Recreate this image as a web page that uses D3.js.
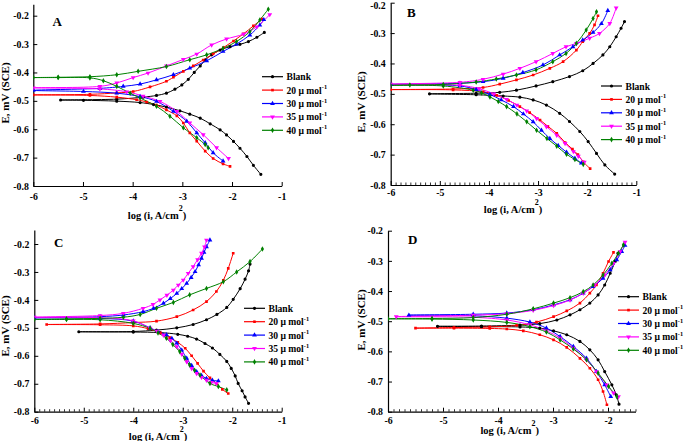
<!DOCTYPE html>
<html><head><meta charset="utf-8">
<script src="https://cdn.jsdelivr.net/npm/d3@7"></script>
<style>
body{margin:0;background:#fff}
svg{display:block}
text{font-family:"Liberation Serif","Times New Roman",serif;font-weight:bold;fill:#000}
</style>
</head><body>
<svg id="chart" width="685" height="441"></svg>
<script>
// ---------- labels / categories ----------
const seriesNames = ["Blank", "20 \u03bc mol", "30 \u03bc mol", "35 \u03bc mol", "40 \u03bc mol"];
const seriesSup = ["", "-1", "-1", "-1", "-1"];
const seriesColors = ["#000000", "#ff0000", "#0000ff", "#ff00ff", "#008000"];
const panelLetters = ["A", "B", "C", "D"];
const xTickValues = [-6, -5, -4, -3, -2, -1];
const xTickValuesD = [-6, -5, -4, -3, -2];
const yTickValues = [-0.8, -0.7, -0.6, -0.5, -0.4, -0.3, -0.2];
const yTitleText = "E, mV (SCE)";
const xTitleText = "log (i, A/cm";
const xTitleSup = "2";

// ---------- data: [log i, E] ordered cathodic end -> Ecorr -> anodic end ----------
const A_blank = [[-1.42,-0.759],[-1.57,-0.727],[-1.70,-0.696],[-1.84,-0.667],[-1.97,-0.643],[-2.11,-0.62],[-2.24,-0.602],[-2.44,-0.581],[-2.64,-0.561],[-2.85,-0.547],[-3.05,-0.535],[-3.32,-0.522],[-3.58,-0.513],[-3.85,-0.506],[-4.32,-0.501],[-4.99,-0.498],[-5.45,-0.497],[-4.32,-0.494],[-3.79,-0.487],[-3.52,-0.481],[-3.32,-0.473],[-3.15,-0.459],[-3.01,-0.444],[-2.88,-0.424],[-2.76,-0.40],[-2.64,-0.377],[-2.54,-0.356],[-2.41,-0.338],[-2.24,-0.321],[-2.04,-0.309],[-1.84,-0.301],[-1.67,-0.291],[-1.50,-0.276],[-1.35,-0.259]];
const A_20 = [[-2.04,-0.731],[-2.18,-0.722],[-2.38,-0.703],[-2.54,-0.677],[-2.71,-0.642],[-2.85,-0.613],[-2.98,-0.578],[-3.11,-0.553],[-3.32,-0.532],[-3.52,-0.515],[-3.72,-0.504],[-3.92,-0.496],[-4.32,-0.487],[-4.86,-0.481],[-6.0,-0.479],[-4.86,-0.477],[-4.32,-0.472],[-3.99,-0.467],[-3.65,-0.451],[-3.32,-0.431],[-3.18,-0.417],[-2.98,-0.396],[-2.78,-0.377],[-2.58,-0.356],[-2.38,-0.335],[-2.17,-0.312],[-1.97,-0.289],[-1.77,-0.264],[-1.57,-0.236],[-1.40,-0.212]];
const A_30 = [[-2.18,-0.712],[-2.38,-0.683],[-2.54,-0.648],[-2.71,-0.613],[-2.91,-0.572],[-3.18,-0.537],[-3.52,-0.502],[-3.85,-0.485],[-4.32,-0.473],[-4.99,-0.467],[-6.0,-0.463],[-4.66,-0.456],[-4.19,-0.449],[-3.85,-0.441],[-3.52,-0.426],[-3.18,-0.408],[-2.85,-0.385],[-2.51,-0.359],[-2.18,-0.326],[-1.91,-0.300],[-1.64,-0.268],[-1.44,-0.233],[-1.36,-0.214]];
const A_35 = [[-2.07,-0.703],[-2.31,-0.665],[-2.58,-0.619],[-2.85,-0.578],[-3.11,-0.537],[-3.45,-0.502],[-3.79,-0.483],[-4.12,-0.468],[-4.66,-0.458],[-6.0,-0.454],[-4.66,-0.449],[-4.32,-0.437],[-3.99,-0.418],[-3.69,-0.402],[-3.32,-0.377],[-2.98,-0.354],[-2.71,-0.335],[-2.41,-0.303],[-2.11,-0.282],[-1.77,-0.265],[-1.50,-0.239],[-1.24,-0.196]];
const A_40 = [[-2.48,-0.665],[-2.54,-0.654],[-2.71,-0.630],[-2.98,-0.595],[-3.25,-0.554],[-3.52,-0.519],[-3.85,-0.490],[-4.05,-0.473],[-4.32,-0.449],[-4.59,-0.429],[-4.86,-0.419],[-5.5,-0.418],[-6.0,-0.418],[-5.5,-0.417],[-4.86,-0.415],[-4.32,-0.408],[-3.89,-0.396],[-3.32,-0.379],[-2.85,-0.355],[-2.51,-0.338],[-2.18,-0.315],[-1.91,-0.291],[-1.64,-0.256],[-1.44,-0.215],[-1.27,-0.177]];

const B_blank = [[-1.44,-0.764],[-1.64,-0.734],[-1.81,-0.696],[-1.98,-0.657],[-2.15,-0.624],[-2.36,-0.591],[-2.56,-0.564],[-2.83,-0.537],[-3.10,-0.520],[-3.37,-0.511],[-3.71,-0.507],[-4.26,-0.503],[-5.21,-0.500],[-4.26,-0.498],[-3.78,-0.495],[-3.44,-0.488],[-3.04,-0.474],[-2.70,-0.460],[-2.36,-0.443],[-2.09,-0.424],[-1.88,-0.400],[-1.68,-0.372],[-1.54,-0.345],[-1.41,-0.312],[-1.31,-0.284],[-1.24,-0.262]];
const B_20 = [[-1.94,-0.746],[-2.08,-0.724],[-2.19,-0.700],[-2.30,-0.682],[-2.45,-0.660],[-2.62,-0.630],[-2.80,-0.607],[-2.96,-0.586],[-3.17,-0.562],[-3.37,-0.542],[-3.60,-0.522],[-3.84,-0.505],[-4.12,-0.493],[-4.73,-0.487],[-6.0,-0.486],[-4.73,-0.484],[-4.12,-0.479],[-3.78,-0.468],[-3.44,-0.454],[-3.10,-0.438],[-2.76,-0.416],[-2.49,-0.394],[-2.22,-0.356],[-2.09,-0.328],[-1.95,-0.301],[-1.85,-0.273],[-1.78,-0.243]];
const B_30 = [[-2.12,-0.728],[-2.25,-0.712],[-2.42,-0.692],[-2.59,-0.670],[-2.76,-0.647],[-2.93,-0.620],[-3.10,-0.592],[-3.30,-0.566],[-3.50,-0.542],[-3.75,-0.520],[-3.98,-0.502],[-4.26,-0.486],[-4.59,-0.474],[-6.0,-0.469],[-4.59,-0.465],[-4.12,-0.460],[-3.71,-0.449],[-3.31,-0.430],[-2.90,-0.405],[-2.56,-0.372],[-2.29,-0.345],[-2.09,-0.323],[-1.88,-0.298],[-1.71,-0.269],[-1.58,-0.226]];
const B_35 = [[-2.06,-0.725],[-2.18,-0.705],[-2.28,-0.690],[-2.45,-0.663],[-2.62,-0.636],[-2.83,-0.608],[-3.03,-0.581],[-3.23,-0.556],[-3.43,-0.537],[-3.64,-0.518],[-3.90,-0.500],[-4.20,-0.483],[-4.59,-0.472],[-6.0,-0.468],[-4.59,-0.462],[-4.12,-0.452],[-3.71,-0.435],[-3.37,-0.416],[-3.04,-0.394],[-2.70,-0.367],[-2.43,-0.345],[-2.22,-0.334],[-1.95,-0.317],[-1.75,-0.301],[-1.54,-0.268],[-1.41,-0.217]];
const B_40 = [[-2.08,-0.732],[-2.25,-0.716],[-2.42,-0.699],[-2.62,-0.672],[-2.82,-0.647],[-3.03,-0.620],[-3.23,-0.592],[-3.43,-0.566],[-3.64,-0.542],[-3.81,-0.525],[-3.98,-0.510],[-4.15,-0.497],[-4.32,-0.488],[-4.93,-0.474],[-6.0,-0.472],[-5.61,-0.471],[-4.93,-0.469],[-4.26,-0.461],[-3.85,-0.451],[-3.44,-0.438],[-3.04,-0.421],[-2.70,-0.394],[-2.43,-0.367],[-2.22,-0.334],[-2.02,-0.290],[-1.88,-0.252],[-1.81,-0.230]];

const C_blank = [[-1.67,-0.770],[-1.74,-0.747],[-1.80,-0.725],[-1.88,-0.699],[-1.94,-0.672],[-2.02,-0.645],[-2.11,-0.620],[-2.25,-0.595],[-2.40,-0.572],[-2.55,-0.556],[-2.72,-0.540],[-2.90,-0.530],[-3.10,-0.523],[-3.46,-0.517],[-4.0,-0.515],[-5.1,-0.514],[-4.0,-0.513],[-3.53,-0.508],[-3.12,-0.500],[-2.79,-0.488],[-2.52,-0.471],[-2.31,-0.452],[-2.11,-0.427],[-1.98,-0.398],[-1.84,-0.360],[-1.74,-0.326],[-1.67,-0.296],[-1.64,-0.272]];
const C_20 = [[-2.08,-0.735],[-2.20,-0.720],[-2.31,-0.700],[-2.45,-0.679],[-2.58,-0.655],[-2.70,-0.627],[-2.82,-0.600],[-2.95,-0.573],[-3.10,-0.552],[-3.26,-0.535],[-3.45,-0.518],[-3.70,-0.503],[-4.0,-0.493],[-4.67,-0.489],[-5.75,-0.488],[-4.67,-0.486],[-4.0,-0.481],[-3.53,-0.476],[-3.12,-0.460],[-2.79,-0.436],[-2.52,-0.406],[-2.32,-0.370],[-2.18,-0.330],[-2.08,-0.287],[-1.98,-0.233]];
const C_30 = [[-2.28,-0.690],[-2.40,-0.688],[-2.52,-0.681],[-2.62,-0.671],[-2.72,-0.657],[-2.82,-0.635],[-2.92,-0.609],[-3.02,-0.580],[-3.12,-0.555],[-3.22,-0.538],[-3.33,-0.525],[-3.50,-0.513],[-3.66,-0.500],[-4.0,-0.476],[-4.67,-0.466],[-6.0,-0.464],[-4.67,-0.460],[-4.20,-0.454],[-3.80,-0.442],[-3.59,-0.430],[-3.39,-0.412],[-3.25,-0.395],[-3.12,-0.377],[-3.02,-0.360],[-2.92,-0.341],[-2.83,-0.320],[-2.75,-0.299],[-2.68,-0.275],[-2.62,-0.251],[-2.57,-0.230],[-2.52,-0.210],[-2.45,-0.186]];
const C_35 = [[-2.32,-0.699],[-2.42,-0.695],[-2.52,-0.687],[-2.62,-0.677],[-2.72,-0.663],[-2.82,-0.645],[-2.92,-0.621],[-3.02,-0.594],[-3.12,-0.567],[-3.25,-0.545],[-3.39,-0.526],[-3.52,-0.512],[-3.66,-0.501],[-4.0,-0.475],[-4.67,-0.464],[-6.0,-0.462],[-4.67,-0.456],[-4.20,-0.448],[-3.80,-0.430],[-3.60,-0.416],[-3.46,-0.400],[-3.32,-0.383],[-3.19,-0.365],[-3.09,-0.347],[-2.99,-0.329],[-2.89,-0.305],[-2.79,-0.281],[-2.70,-0.256],[-2.62,-0.233],[-2.56,-0.210],[-2.52,-0.186]];
const C_40 = [[-2.11,-0.722],[-2.28,-0.710],[-2.45,-0.699],[-2.65,-0.669],[-2.76,-0.652],[-2.86,-0.633],[-2.96,-0.609],[-3.06,-0.585],[-3.20,-0.560],[-3.33,-0.537],[-3.50,-0.518],[-3.66,-0.502],[-4.0,-0.484],[-4.67,-0.471],[-5.35,-0.470],[-6.0,-0.470],[-5.35,-0.468],[-4.67,-0.466],[-4.20,-0.462],[-3.86,-0.452],[-3.53,-0.430],[-3.19,-0.409],[-2.86,-0.382],[-2.52,-0.359],[-2.18,-0.335],[-1.91,-0.300],[-1.64,-0.263],[-1.39,-0.218]];

const D_blank = [[-1.80,-0.775],[-1.85,-0.744],[-1.93,-0.711],[-2.06,-0.667],[-2.18,-0.628],[-2.33,-0.595],[-2.51,-0.567],[-2.75,-0.545],[-2.99,-0.532],[-3.24,-0.523],[-3.60,-0.519],[-4.30,-0.518],[-5.10,-0.517],[-4.30,-0.516],[-3.60,-0.513],[-3.24,-0.508],[-2.93,-0.496],[-2.69,-0.479],[-2.51,-0.462],[-2.33,-0.440],[-2.18,-0.413],[-2.06,-0.380],[-1.96,-0.341],[-1.87,-0.302],[-1.82,-0.275]];
const D_20 = [[-2.02,-0.777],[-2.09,-0.733],[-2.18,-0.694],[-2.33,-0.656],[-2.51,-0.623],[-2.75,-0.587],[-2.99,-0.562],[-3.24,-0.545],[-3.54,-0.532],[-3.84,-0.526],[-4.15,-0.524],[-4.80,-0.523],[-5.50,-0.523],[-4.80,-0.521],[-4.15,-0.519],[-3.66,-0.514],[-3.30,-0.503],[-2.99,-0.485],[-2.75,-0.466],[-2.51,-0.440],[-2.33,-0.407],[-2.21,-0.380],[-2.09,-0.341],[-1.99,-0.302],[-1.90,-0.272]];
const D_30 = [[-1.95,-0.750],[-2.06,-0.711],[-2.21,-0.667],[-2.39,-0.623],[-2.63,-0.584],[-2.87,-0.551],[-3.12,-0.523],[-3.42,-0.503],[-3.84,-0.490],[-4.45,-0.482],[-5.62,-0.480],[-4.45,-0.477],[-3.84,-0.473],[-3.36,-0.462],[-2.99,-0.446],[-2.69,-0.429],[-2.45,-0.407],[-2.27,-0.385],[-2.09,-0.358],[-1.96,-0.330],[-1.84,-0.297],[-1.75,-0.269],[-1.69,-0.249]];
const D_35 = [[-1.81,-0.750],[-1.90,-0.738],[-2.02,-0.711],[-2.21,-0.667],[-2.39,-0.628],[-2.63,-0.589],[-2.87,-0.556],[-3.12,-0.532],[-3.42,-0.512],[-3.84,-0.496],[-4.45,-0.487],[-5.85,-0.485],[-4.45,-0.480],[-3.84,-0.475],[-3.36,-0.464],[-2.99,-0.448],[-2.69,-0.430],[-2.45,-0.407],[-2.24,-0.380],[-2.06,-0.347],[-1.90,-0.308],[-1.78,-0.269],[-1.69,-0.238]];
const D_40 = [[-1.84,-0.750],[-1.99,-0.716],[-2.18,-0.672],[-2.39,-0.628],[-2.63,-0.592],[-2.87,-0.562],[-3.12,-0.536],[-3.42,-0.518],[-3.84,-0.504],[-4.45,-0.496],[-5.20,-0.493],[-6.0,-0.492],[-5.20,-0.491],[-4.45,-0.488],[-3.84,-0.477],[-3.36,-0.459],[-2.99,-0.440],[-2.69,-0.422],[-2.45,-0.402],[-2.27,-0.380],[-2.09,-0.347],[-1.93,-0.308],[-1.81,-0.275],[-1.72,-0.247]];

// ---------- layout (pixels) ----------
const panels = [
  {letter: panelLetters[0], series: [A_blank, A_20, A_30, A_35, A_40], xMax: -1, xTicks: xTickValues, xPx: [33.3, 281.7], yPx: [186, 15.7], yTop: -0.16, minor: false,
   letterPos: [52.5, 26], legend: [262, 76.7], yTitle: [8.5, 93], xTitle: [157, 219], xPad: 7, yPad: 4.5},
  {letter: panelLetters[1], series: [B_blank, B_20, B_30, B_35, B_40], xMax: -1, xTicks: xTickValues, xPx: [390.7, 636.3], yPx: [185, 2.7], yTop: -0.2, minor: true,
   letterPos: [407, 17.3], legend: [601, 86], yTitle: [365, 102], xTitle: [513, 213], xPad: 4.5, yPad: 5, topLabelShift: 3},
  {letter: panelLetters[2], series: [C_blank, C_20, C_30, C_35, C_40], xMax: -1, xTicks: xTickValues, xPx: [34.3, 281.7], yPx: [411.7, 244], yTop: -0.15, minor: true,
   letterPos: [54, 247.3], legend: [244, 308.3], yTitle: [8.5, 326], xTitle: [158, 440], xPad: 5.5, yPad: 5},
  {letter: panelLetters[3], series: [D_blank, D_20, D_30, D_35, D_40], xMax: -1.5, xTicks: xTickValuesD, xPx: [388, 608], xPxRef: -2, yPx: [411.7, 230.7], yTop: -0.2, minor: true,
   letterPos: [408, 244], legend: [618, 296.7], yTitle: [365, 320], xTitle: [509.7, 434], xPad: 5.5, yPad: 5}
];

const symbolTypes = [d3.symbolCircle, d3.symbolSquare, d3.symbolTriangle, d3.symbolTriangle, d3.symbolDiamond];
const symbolSizes = [8, 7, 10, 10, 9];
const symbolRot = [0, 0, 0, 180, 0];

const svg = d3.select("#chart");

panels.forEach((p, pi) => {
  const xRefVal = p.xPxRef !== undefined ? p.xPxRef : -1;
  const xs0 = d3.scaleLinear().domain([-6, xRefVal]).range(p.xPx);
  const x = d3.scaleLinear().domain([-6, p.xMax]).range([xs0(-6), xs0(p.xMax)]);
  const ys0 = d3.scaleLinear().domain([-0.8, -0.2]).range(p.yPx);
  const y = d3.scaleLinear().domain([-0.8, p.yTop]).range([ys0(-0.8), ys0(p.yTop)]);

  const g = svg.append("g");
  const clipId = "clip" + pi;
  svg.append("clipPath").attr("id", clipId).append("rect")
    .attr("x", x(-6)).attr("y", y(p.yTop)).attr("width", x(p.xMax) - x(-6)).attr("height", y(-0.8) - y(p.yTop));

  // minor x ticks
  if (p.minor) {
    const minorVals = d3.range(-60, Math.round(p.xMax * 10) + 1).map(v => v / 10).filter(v => Math.abs(v - Math.round(v)) > 1e-6);
    g.append("g").attr("transform", `translate(0,${y(-0.8)})`)
      .call(d3.axisBottom(x).tickValues(minorVals).tickSize(-2.5).tickSizeOuter(0).tickFormat(""))
      .call(s => s.select(".domain").remove())
      .call(s => s.selectAll("line").attr("stroke", "#000").attr("stroke-width", 0.8));
  }

  // x axis
  g.append("g").attr("transform", `translate(0,${y(-0.8)})`)
    .call(d3.axisBottom(x).tickValues(p.xTicks).tickSize(-4).tickSizeOuter(0).tickPadding(p.xPad).tickFormat(d => String(d)))
    .call(s => s.select(".domain").attr("stroke", "#000").attr("stroke-width", 1.2))
    .call(s => s.selectAll("text").attr("font-size", 9.8).attr("font-family", "Liberation Serif").attr("font-weight", "bold"));

  // y axis
  const ya = g.append("g").attr("transform", `translate(${x(-6)},0)`)
    .call(d3.axisLeft(y).tickValues(yTickValues).tickSize(-4).tickSizeOuter(0).tickPadding(p.yPad).tickFormat(d => d.toFixed(1)))
    .call(s => s.select(".domain").attr("stroke", "#000").attr("stroke-width", 1.2))
    .call(s => s.selectAll("text").attr("font-size", 9.8).attr("font-family", "Liberation Serif").attr("font-weight", "bold"));
  if (p.topLabelShift) {
    ya.selectAll(".tick").filter(d => Math.abs(d - p.yTop) < 1e-9).select("text").attr("y", p.topLabelShift);
  }

  // curves
  const line = d3.line().x(d => x(d[0])).y(d => y(d[1])).curve(d3.curveCatmullRom.alpha(0.5));
  const plot = g.append("g").attr("clip-path", `url(#${clipId})`);
  p.series.forEach((data, si) => {
    plot.append("path").datum(data).attr("d", line)
      .attr("fill", "none").attr("stroke", seriesColors[si]).attr("stroke-width", 1);
  });
  p.series.forEach((data, si) => {
    const sym = d3.symbol().type(symbolTypes[si]).size(symbolSizes[si]);
    plot.selectAll(null).data(data).enter().append("path")
      .attr("d", sym)
      .attr("transform", d => `translate(${x(d[0])},${y(d[1])}) rotate(${symbolRot[si]})`)
      .attr("fill", seriesColors[si]);
  });

  // panel letter
  g.append("text").attr("x", p.letterPos[0]).attr("y", p.letterPos[1])
    .attr("font-size", 13).text(p.letter);

  // y title
  g.append("text").attr("transform", `translate(${p.yTitle[0]},${p.yTitle[1]}) rotate(-90)`)
    .attr("text-anchor", "middle").attr("font-size", 11).text(yTitleText);

  // x title
  const xt = g.append("text").attr("x", p.xTitle[0]).attr("y", p.xTitle[1])
    .attr("text-anchor", "middle").attr("font-size", 10.5);
  xt.append("tspan").text(xTitleText);
  xt.append("tspan").attr("dy", -8).attr("font-size", 8).text(xTitleSup);
  xt.append("tspan").attr("dy", 8).text(")");

  // legend
  const step = 13.4;
  seriesNames.forEach((name, si) => {
    const ly = p.legend[1] + si * step;
    const lg = g.append("g");
    lg.append("line").attr("x1", p.legend[0]).attr("x2", p.legend[0] + 21)
      .attr("y1", ly).attr("y2", ly).attr("stroke", seriesColors[si]).attr("stroke-width", 1.2);
    lg.append("path").attr("d", d3.symbol().type(symbolTypes[si]).size(symbolSizes[si]))
      .attr("transform", `translate(${p.legend[0] + 10.5},${ly}) rotate(${symbolRot[si]})`)
      .attr("fill", seriesColors[si]);
    const t = lg.append("text").attr("x", p.legend[0] + 24.5).attr("y", ly + 3.5).attr("font-size", 9.6);
    t.append("tspan").text(name);
    if (seriesSup[si]) t.append("tspan").attr("dy", -4.5).attr("font-size", 6.3).text(seriesSup[si]);
  });
});
</script>
</body></html>
